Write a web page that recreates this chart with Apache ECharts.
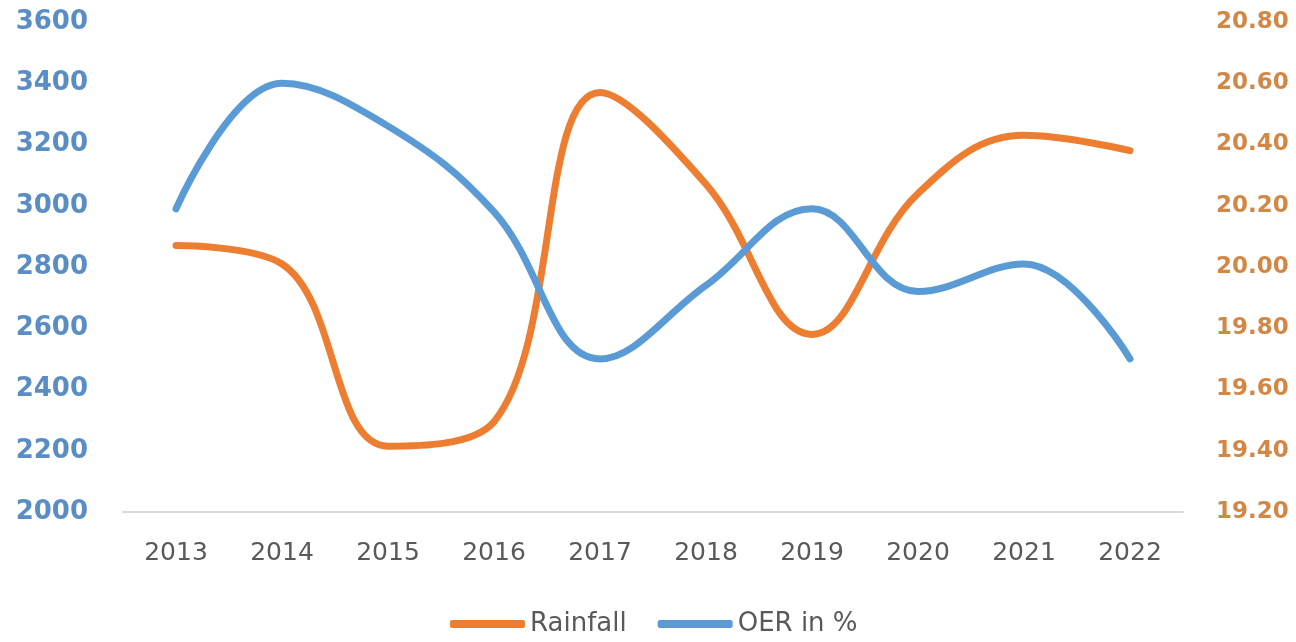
<!DOCTYPE html>
<html>
<head>
<meta charset="utf-8">
<script src="https://cdn.jsdelivr.net/npm/echarts@6/dist/echarts.min.js"></script>
<style>
  html, body { margin: 0; padding: 0; background: #ffffff; }
  #chart { width: 1296px; height: 642px; }
</style>
</head>
<body>
<div id="chart"></div>
<script>
// Years on the category axis
const years = ['2013', '2014', '2015', '2016', '2017', '2018', '2019', '2020', '2021', '2022'];
// Annual rainfall (left axis)
const rainfall = [2870, 2810, 2215, 2295, 3370, 3070, 2580, 3040, 3230, 3180];
// Oil extraction rate in % (right axis)
const oer = [20.19, 20.60, 20.46, 20.18, 19.70, 19.94, 20.19, 19.92, 20.01, 19.70];

const ORANGE = '#ED7D31';
const BLUE = '#5B9BD5';
const FONT = '"DejaVu Sans", "Liberation Sans", sans-serif';

const chart = echarts.init(document.getElementById('chart'), null, { renderer: 'canvas' });
chart.setOption({
  animation: false,
  backgroundColor: '#ffffff',
  grid: { left: 123, right: 113, top: 22, bottom: 130, containLabel: false },
  legend: {
    top: 611,
    left: 450,
    padding: 0,
    itemWidth: 75,
    itemHeight: 8,
    itemGap: 31,
    icon: 'roundRect',
    textStyle: { fontFamily: FONT, fontSize: 26, color: '#595959' },
    data: ['Rainfall', 'OER in %']
  },
  xAxis: {
    type: 'category',
    data: years,
    boundaryGap: true,
    axisLine: { show: true, lineStyle: { color: '#D9D9D9', width: 2 } },
    axisTick: { show: false },
    axisLabel: { fontFamily: FONT, fontSize: 25, color: '#595959', margin: 29 }
  },
  yAxis: [
    {
      type: 'value',
      min: 2000,
      max: 3600,
      interval: 200,
      position: 'left',
      splitLine: { show: false },
      axisLine: { show: false },
      axisTick: { show: false },
      axisLabel: {
        fontFamily: FONT, fontSize: 26, fontWeight: 'bold', color: '#5A8DC4', margin: 35,
        formatter: v => String(v)
      }
    },
    {
      type: 'value',
      min: 19.2,
      max: 20.8,
      interval: 0.2,
      position: 'right',
      splitLine: { show: false },
      axisLine: { show: false },
      axisTick: { show: false },
      axisLabel: {
        fontFamily: FONT, fontSize: 23, fontWeight: 'bold', color: '#D38745', margin: 33,
        formatter: v => v.toFixed(2)
      }
    }
  ],
  series: [
    {
      name: 'Rainfall',
      type: 'line',
      yAxisIndex: 0,
      data: rainfall,
      smooth: 0.4,
      showSymbol: false,
      color: ORANGE,
      lineStyle: { width: 7, color: ORANGE, cap: 'round' }
    },
    {
      name: 'OER in %',
      type: 'line',
      yAxisIndex: 1,
      data: oer,
      smooth: 0.4,
      showSymbol: false,
      color: BLUE,
      lineStyle: { width: 7, color: BLUE, cap: 'round' }
    }
  ]
});
</script>
</body>
</html>
